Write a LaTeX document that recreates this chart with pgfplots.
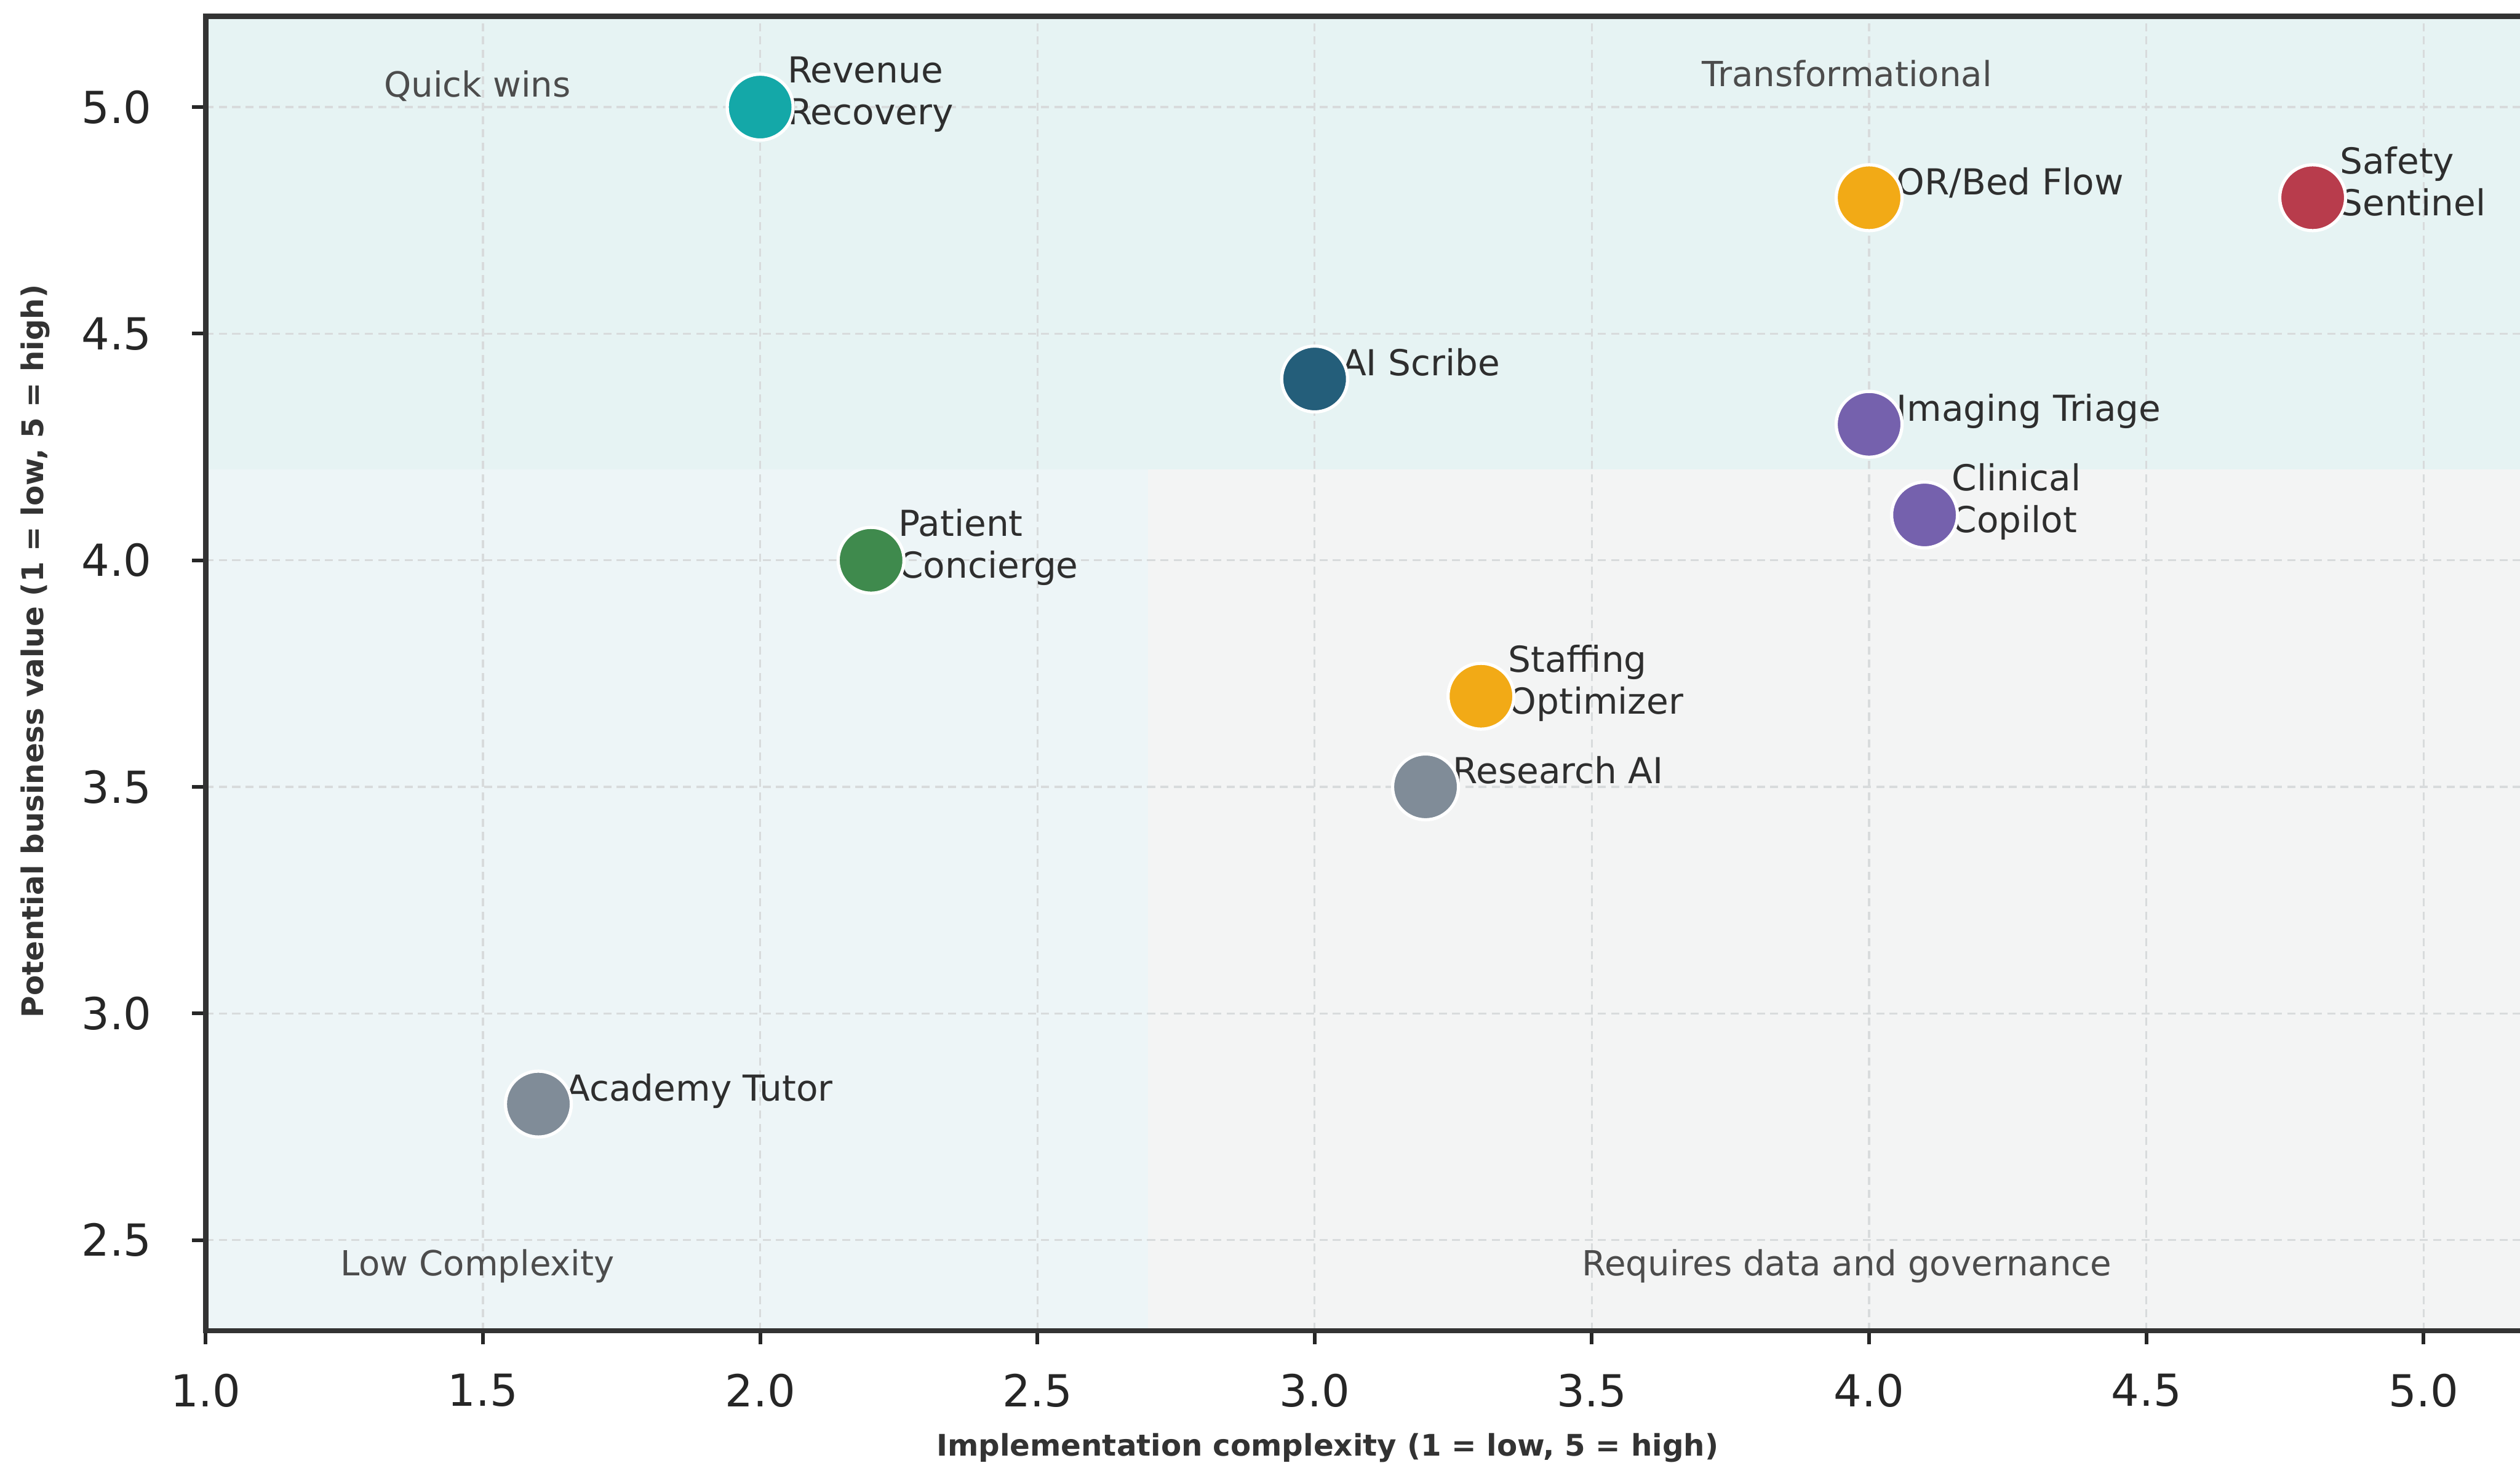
\documentclass[border=0pt]{standalone}
\usepackage{fontspec}
\setmainfont{DejaVu Sans}
\usepackage{pgfplots}
\pgfplotsset{compat=1.18}
\definecolor{cTeal}{HTML}{14A8A8}
\definecolor{cOrange}{HTML}{F2AA16}
\definecolor{cRed}{HTML}{B83C4C}
\definecolor{cNavy}{HTML}{245E7A}
\definecolor{cPurple}{HTML}{7561AD}
\definecolor{cGreen}{HTML}{3F8A4D}
\definecolor{cGray}{HTML}{808C98}
\definecolor{bgTop}{HTML}{E6F3F3}
\definecolor{bgLeft}{HTML}{EDF5F7}
\definecolor{bgRest}{HTML}{F3F4F4}
\definecolor{gridc}{HTML}{D8DBDC}
\tikzset{lbl/.style={anchor=base west, inner sep=0pt, xshift=6.6pt,
  font=\fontsize{8.9}{10}\selectfont, text=black!82},
  qlbl/.style={anchor=center, inner sep=0pt, font=\fontsize{8.6}{10}\selectfont, text=black!70}}
\newcommand{\pone}[4]{\addplot[only marks, mark=*, mark size=8.2pt,
  mark options={fill=#1, draw=white, line width=0.8pt}] coordinates {(#2,#3)} node[lbl, yshift=0.8pt]{#4};}
\newcommand{\ptwo}[5]{\addplot[only marks, mark=*, mark size=8.2pt,
  mark options={fill=#1, draw=white, line width=0.8pt}] coordinates {(#2,#3)}
  node[lbl, yshift=6pt]{#4} node[lbl, yshift=-4.4pt]{#5};}
\begin{document}
\begin{tikzpicture}
\begin{axis}[
  set layers,
  scale only axis, width=579.6pt, height=327.1pt,
  xmin=1, xmax=5.2, ymin=2.3, ymax=5.2,
  xtick={1,1.5,2,2.5,3,3.5,4,4.5,5},
  ytick={2.5,3,3.5,4,4.5,5},
  xtick pos=bottom, ytick pos=left,
  tick align=outside,
  major tick length=3.4pt,
  every tick/.style={black!85, line width=0.9pt},
  axis line style={draw=black!80, line width=1.3pt},
  grid=major,
  major grid style={gridc, line width=0.5pt, dash pattern=on 2pt off 1.3pt},
  /pgf/number format/assume math mode=true,
  /pgf/number format/.cd, fixed, fixed zerofill, precision=1, /pgfplots/.cd,
  ticklabel style={font=\fontsize{11}{13}\selectfont, text=black!85},
  xticklabel style={yshift=-3.8pt},
  yticklabel style={xshift=-6.5pt},
  xlabel={Implementation complexity (1 = low, 5 = high)},
  ylabel={Potential business value (1 = low, 5 = high)},
  label style={font=\fontsize{7.4}{9}\selectfont\bfseries, text=black!80},
  xlabel style={at={(axis description cs:0.4817,-0.0893)}, anchor=center},
  ylabel style={at={(axis description cs:-0.0732,0.517)}, anchor=center},
]
\begin{pgfonlayer}{axis background}
  \fill[bgRest] (axis cs:1,2.3) rectangle (axis cs:5.2,5.2);
  \fill[bgLeft] (axis cs:1,2.3) rectangle (axis cs:2.7,4.2);
  \fill[bgTop] (axis cs:1,4.2) rectangle (axis cs:5.2,5.2);
\end{pgfonlayer}

\node[qlbl] at (axis cs:1.49,5.046) {Quick wins};
\node[qlbl] at (axis cs:3.96,5.074) {Transformational};
\node[qlbl] at (axis cs:1.49,2.443) {Low Complexity};
\node[qlbl] at (axis cs:3.96,2.443) {Requires data and governance};

\ptwo{cTeal}{2.0}{5.0}{Revenue}{Recovery}
\pone{cOrange}{4.0}{4.8}{OR/Bed Flow}
\ptwo{cRed}{4.8}{4.8}{Safety}{Sentinel}
\pone{cNavy}{3.0}{4.4}{AI Scribe}
\pone{cPurple}{4.0}{4.3}{Imaging Triage}
\ptwo{cPurple}{4.1}{4.1}{Clinical}{Copilot}
\ptwo{cGreen}{2.2}{4.0}{Patient}{Concierge}
\ptwo{cOrange}{3.3}{3.7}{Staffing}{Optimizer}
\pone{cGray}{3.2}{3.5}{Research AI}
\pone{cGray}{1.6}{2.8}{Academy Tutor}
\end{axis}
\pgfresetboundingbox
\path[use as bounding box] (-51.2pt,-34.8pt) rectangle (576pt,331.2pt);
\end{tikzpicture}
\end{document}
